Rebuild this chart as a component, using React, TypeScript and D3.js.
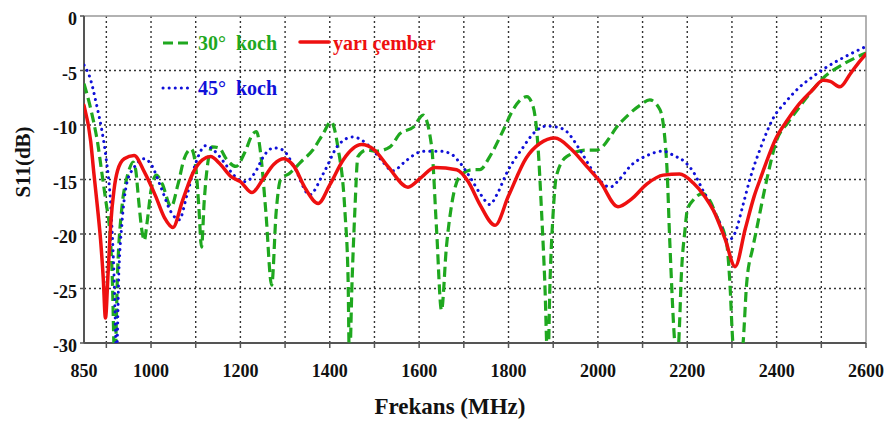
import { useEffect, useRef } from "react"
import * as d3 from "d3"

// frequency (MHz) / S11 (dB), one pair of arrays per curve
const freqSemi = [850, 865, 872, 880, 887, 893, 898, 904, 910, 917, 925, 940, 962, 985, 1010, 1030, 1049, 1070, 1095, 1115, 1133, 1155, 1178, 1200, 1226, 1250, 1275, 1297, 1320, 1345, 1374, 1400, 1430, 1471, 1500, 1530, 1575, 1605, 1635, 1684, 1710, 1736, 1770, 1800, 1840, 1870, 1904, 1940, 1975, 2005, 2045, 2075, 2110, 2146, 2183, 2213, 2240, 2258, 2285, 2307, 2330, 2350, 2363, 2400, 2425, 2452, 2480, 2504, 2520, 2542, 2565, 2585, 2600]
const s11Semi = [-8.2, -11.5, -14.4, -17.5, -20.5, -24, -27.7, -23.5, -19, -16, -14.2, -13.1, -12.8, -14.3, -16.5, -18.5, -19.4, -17, -14.3, -13.2, -12.9, -13.6, -14.7, -15.2, -16.2, -15, -13.6, -13.1, -13.8, -15.8, -17.2, -15.5, -13.2, -11.8, -12.3, -13.8, -15.7, -14.8, -13.9, -14.1, -15.2, -17.3, -19.2, -16.5, -13, -11.7, -11.2, -12.2, -13.8, -15.2, -17.5, -16.8, -15.4, -14.6, -14.5, -15.3, -16.6, -17.8, -20.5, -23, -19.5, -16.5, -15, -11.1, -9.5, -8.0, -6.8, -5.9, -6.0, -6.5, -5.3, -4.2, -3.5]

const freq45 = [850, 862, 879, 890, 899, 910, 917, 923, 928, 935, 946, 962, 985, 1000, 1022, 1045, 1063, 1080, 1100, 1122, 1140, 1163, 1185, 1212, 1235, 1253, 1275, 1295, 1320, 1355, 1385, 1420, 1452, 1490, 1515, 1541, 1570, 1600, 1617, 1645, 1669, 1690, 1714, 1740, 1758, 1775, 1796, 1830, 1860, 1885, 1910, 1930, 1960, 1990, 2027, 2050, 2072, 2110, 2146, 2170, 2195, 2215, 2235, 2255, 2273, 2291, 2307, 2325, 2340, 2365, 2392, 2420, 2452, 2480, 2504, 2550, 2600]
const s1145 = [-4.5, -5.5, -8.3, -10.5, -12.9, -17.5, -23.6, -31, -23.6, -19, -15.3, -13.9, -13.1, -13.6, -15.7, -18, -18.7, -16.5, -13.5, -11.9, -12.3, -13.4, -14.6, -15.2, -14.2, -12.8, -12.1, -12.3, -13.8, -16.4, -14.5, -11.8, -11.1, -12.0, -13.2, -14.2, -13.3, -12.5, -12.4, -12.4, -12.6, -13.4, -14.8, -16.5, -17.3, -16.3, -14.4, -12.2, -10.6, -10.1, -10.2, -10.6, -12.3, -14.3, -15.7, -14.9, -13.8, -12.8, -12.4, -12.8, -13.4, -14.4, -16.0, -17.5, -19.0, -20.6, -19.9, -17.3, -15, -12, -9.4, -7.9, -6.5, -5.6, -4.9, -3.8, -2.8]

const freq30 = [850, 862, 872, 880, 890, 900, 906, 913, 919, 925, 935, 945, 951, 960, 966, 972, 980, 985, 991, 1000, 1012, 1025, 1045, 1060, 1075, 1090, 1100, 1107, 1113, 1119, 1127, 1137, 1152, 1170, 1190, 1210, 1228, 1236, 1245, 1257, 1270, 1280, 1290, 1311, 1335, 1362, 1385, 1403, 1418, 1434, 1441, 1444, 1450, 1456, 1463, 1482, 1505, 1535, 1557, 1587, 1609, 1628, 1639, 1650, 1661, 1672, 1691, 1720, 1736, 1758, 1788, 1810, 1841, 1855, 1866, 1874, 1881, 1888, 1893, 1900, 1907, 1930, 1975, 1997, 2050, 2094, 2116, 2139, 2154, 2161, 2172, 2177, 2183, 2186, 2195, 2200, 2213, 2235, 2250, 2266, 2288, 2295, 2302, 2313, 2325, 2333, 2347, 2355, 2378, 2400, 2425, 2452, 2480, 2504, 2550, 2600]
const s1130 = [-6.2, -8, -9.8, -11.5, -14.4, -17.3, -19, -23.6, -32, -23.6, -17.5, -15, -14.1, -13.4, -14.2, -16.8, -19.8, -20.6, -19, -16, -14.6, -15.4, -17.5, -15.5, -13, -12.2, -13.8, -17.5, -21.2, -17, -13.5, -12.0, -12.1, -13.2, -13.8, -12.5, -10.8, -10.6, -12.5, -18, -24.7, -18, -15, -14.4, -13.4, -12.3, -10.8, -9.7, -12, -18, -24.2, -32, -24.2, -18, -12.9, -12.3, -12.4, -12, -10.8, -10.2, -9.1, -12, -19.6, -27, -21.2, -17.5, -14.7, -14.1, -14.1, -12.9, -10.5, -8.6, -7.4, -8.3, -12, -18, -24.2, -32, -24.2, -18, -14.7, -12.9, -12.3, -12.3, -9.8, -8.2, -7.7, -8.6, -13.5, -20.8, -30, -32, -28, -24.5, -19.6, -17.8, -16.9, -16.3, -16.9, -18.4, -20.8, -24.2, -30, -33, -30, -24.5, -21.2, -19.6, -15, -11.4, -9.8, -8.3, -6.8, -5.7, -4.4, -3.4]

const xTickLabels = [850, 1000, 1200, 1400, 1600, 1800, 2000, 2200, 2400, 2600]
const yTickLabels = [0, -5, -10, -15, -20, -25, -30]

const W = 888
const H = 425
const left = 84
const right = 866
const top = 16
const bottom = 343
const font = "'Liberation Serif', 'Times New Roman', serif"

export default function App() {
  const ref = useRef<SVGSVGElement>(null)

  useEffect(() => {
    const svg = d3.select(ref.current)
    svg.selectAll("*").remove()

    const x = d3.scaleLinear().domain([850, 2600]).range([left, right])
    const y = d3.scaleLinear().domain([-30, 0]).range([bottom, top])

    svg.append("rect").attr("width", W).attr("height", H).attr("fill", "#fff")

    svg.append("defs").append("clipPath").attr("id", "plot")
      .append("rect")
      .attr("x", left).attr("y", top)
      .attr("width", right - left).attr("height", bottom - top)

    // grid
    const grid = svg.append("g")
    grid.selectAll(".vg")
      .data(d3.range(900, 2600, 100))
      .enter().append("line")
      .attr("x1", (d) => x(d)).attr("x2", (d) => x(d))
      .attr("y1", top).attr("y2", bottom)
    grid.selectAll(".hg")
      .data(d3.range(-25, 0, 5))
      .enter().append("line")
      .attr("x1", left).attr("x2", right)
      .attr("y1", (d) => y(d)).attr("y2", (d) => y(d))
    grid.selectAll("line")
      .attr("stroke", "#333")
      .attr("stroke-width", 1.4)
      .attr("stroke-dasharray", "2,3")

    // frame
    svg.append("rect")
      .attr("x", left).attr("y", top)
      .attr("width", right - left).attr("height", bottom - top)
      .attr("fill", "none").attr("stroke", "#999").attr("stroke-width", 1.5)
    svg.append("line").attr("x1", left).attr("x2", right).attr("y1", bottom).attr("y2", bottom)
      .attr("stroke", "#555").attr("stroke-width", 2)
    svg.append("line").attr("x1", left).attr("x2", left).attr("y1", top).attr("y2", bottom)
      .attr("stroke", "#555").attr("stroke-width", 2)

    // ticks
    svg.append("g").selectAll("line")
      .data(d3.range(900, 2700, 100))
      .enter().append("line")
      .attr("x1", (d) => x(d)).attr("x2", (d) => x(d))
      .attr("y1", bottom).attr("y2", bottom + 5)
      .attr("stroke", "#555").attr("stroke-width", 1.5)
    svg.append("g").selectAll("line")
      .data(yTickLabels)
      .enter().append("line")
      .attr("x1", left - 4).attr("x2", left)
      .attr("y1", (d) => y(d)).attr("y2", (d) => y(d))
      .attr("stroke", "#555").attr("stroke-width", 1.5)

    svg.append("g").selectAll("text")
      .data(xTickLabels)
      .enter().append("text")
      .attr("x", (d) => x(d)).attr("y", 377)
      .attr("text-anchor", "middle")
      .attr("font-family", font).attr("font-weight", "bold").attr("font-size", 18)
      .attr("fill", "#111")
      .text((d) => d)
    svg.append("g").selectAll("text")
      .data(yTickLabels)
      .enter().append("text")
      .attr("x", 77).attr("y", (d) => y(d) + 9)
      .attr("text-anchor", "end")
      .attr("font-family", font).attr("font-weight", "bold").attr("font-size", 18)
      .attr("fill", "#111")
      .text((d) => d)

    svg.append("text")
      .attr("x", 450).attr("y", 414)
      .attr("text-anchor", "middle")
      .attr("font-family", font).attr("font-weight", "bold").attr("font-size", 23)
      .attr("fill", "#111")
      .text("Frekans (MHz)")
    svg.append("text")
      .attr("transform", "translate(30,162) rotate(-90)")
      .attr("text-anchor", "middle")
      .attr("font-family", font).attr("font-weight", "bold").attr("font-size", 21)
      .attr("fill", "#111")
      .text("S11(dB)")

    // curves
    const line = d3.line<[number, number]>()
      .x((d) => x(d[0])).y((d) => y(d[1]))
      .curve(d3.curveMonotoneX)

    const series = [
      { f: freq30, v: s1130, color: "#1fa81f", width: 3.2, dash: "10,5", cap: "butt" },
      { f: freq45, v: s1145, color: "#1010d8", width: 3, dash: "0.1,6", cap: "round" },
      { f: freqSemi, v: s11Semi, color: "#ee1010", width: 3.5, dash: null, cap: "round" },
    ]
    const curves = svg.append("g").attr("clip-path", "url(#plot)")
    series.forEach((s) => {
      const pts = s.f.map((f, i) => [f, s.v[i]] as [number, number])
      curves.append("path")
        .attr("d", line(pts))
        .attr("fill", "none")
        .attr("stroke", s.color)
        .attr("stroke-width", s.width)
        .attr("stroke-dasharray", s.dash)
        .attr("stroke-linecap", s.cap)
        .attr("stroke-linejoin", "round")
    })

    // legend
    const legend = [
      { label: "30°  koch", lx: 163, ly: 43, tx: 198, ty: 50, s: series[0] },
      { label: "45°  koch", lx: 163, ly: 88, tx: 198, ty: 95, s: series[1] },
      { label: "yarı çember", lx: 300, ly: 42, tx: 333, ty: 50, s: series[2] },
    ]
    const lg = svg.append("g")
    legend.forEach((l) => {
      lg.append("line")
        .attr("x1", l.lx).attr("x2", l.lx + 29)
        .attr("y1", l.ly).attr("y2", l.ly)
        .attr("stroke", l.s.color)
        .attr("stroke-width", l.s.width)
        .attr("stroke-dasharray", l.s.dash)
        .attr("stroke-linecap", l.s.cap)
      lg.append("text")
        .attr("x", l.tx).attr("y", l.ty)
        .attr("font-family", font).attr("font-weight", "bold").attr("font-size", 20)
        .attr("fill", l.s.color)
        .attr("xml:space", "preserve")
        .style("white-space", "pre")
        .text(l.label)
    })
  }, [])

  return (
    <svg
      ref={ref}
      width={W}
      height={H}
      style={{ position: "absolute", left: 0, top: 0, display: "block" }}
    />
  )
}
